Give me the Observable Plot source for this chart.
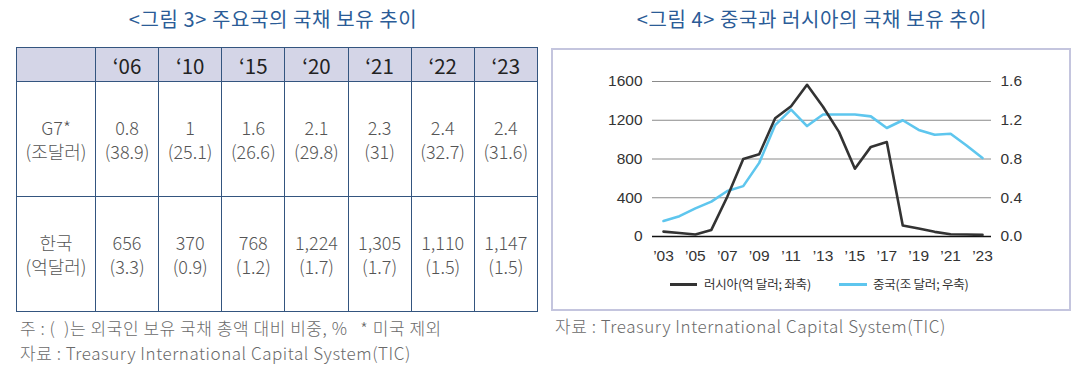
<!DOCTYPE html>
<html>
<head>
<meta charset="utf-8">
<script src="https://cdn.jsdelivr.net/npm/d3@7"></script>
<script src="https://cdn.jsdelivr.net/npm/@observablehq/plot@0.6"></script>
<style>
  html, body { margin: 0; padding: 0; background: #fff; }
  #page { position: relative; width: 1090px; height: 382px; overflow: hidden; font-family: "Noto Sans CJK KR", "Noto Sans", sans-serif; }
  .title { position: absolute; top: 5px; font-size: 20px; line-height: 28px; color: #2b5c97; text-align: center; white-space: nowrap; font-weight: 400; letter-spacing: 0.6px; }
  .note { position: absolute; font-size: 17px; line-height: 24px; color: #6a6a6a; white-space: pre; font-weight: 300; letter-spacing: 0.55px; }
  table.t { position: absolute; left: 16px; top: 47px; width: 521px; border-collapse: collapse; table-layout: fixed; }
  table.t td, table.t th { border: 1px solid #34557f; text-align: center; padding: 0; }
  table.t th { background: #d4d5e7; height: 33px; font-size: 20.5px; font-weight: 400; color: #222; }
  table.t td { height: 114px; font-size: 18px; line-height: 24px; color: #555; font-weight: 300; }
  #box { position: absolute; left: 551px; top: 48px; width: 516px; height: 259px; border: 2px solid #c4c5de; }
  #chart { position: absolute; left: 552px; top: 48px; }
  .leg { position: absolute; top: 275px; font-size: 12.5px; line-height: 18px; color: #333; white-space: nowrap; letter-spacing: -0.2px; }
  .sw { position: absolute; top: 283px; height: 3px; }
</style>
</head>
<body>
<div id="page">
  <div class="title" style="left:0; width:546px;">&lt;그림 3&gt; 주요국의 국채 보유 추이</div>
  <div class="title" style="left:546px; width:532px;">&lt;그림 4&gt; 중국과 러시아의 국채 보유 추이</div>
  <table class="t" id="tbl"></table>
  <div class="note" style="left:20px; top:316px;">주 : (  )는 외국인 보유 국채 총액 대비 비중, %   * 미국 제외</div>
  <div class="note" style="left:20px; top:341px;">자료 : Treasury International Capital System(TIC)</div>
  <div id="box"></div>
  <div id="chart"></div>
  <div class="sw" style="left:670px; width:27px; background:#333;"></div>
  <div class="leg" style="left:704px;">러시아(억 달러; 좌축)</div>
  <div class="sw" style="left:839px; width:28px; background:#5ec6ee;"></div>
  <div class="leg" style="left:873px;">중국(조 달러; 우축)</div>
  <div class="note" style="left:555px; top:314px;">자료 : Treasury International Capital System(TIC)</div>
</div>
<script>
// ---- Table data (figure 3) ----
const tableYears = ["‘06", "‘10", "‘15", "‘20", "‘21", "‘22", "‘23"];
const g7Holdings = [0.8, 1, 1.6, 2.1, 2.3, 2.4, 2.4];
const g7Share = [38.9, 25.1, 26.6, 29.8, 31, 32.7, 31.6];
const korHoldings = [656, 370, 768, 1224, 1305, 1110, 1147];
const korShare = [3.3, 0.9, 1.2, 1.7, 1.7, 1.5, 1.5];
const rowLabels = [["G7*", "(조달러)"], ["한국", "(억달러)"]];

// ---- Line chart data (figure 4) ----
const years = [2003, 2004, 2005, 2006, 2007, 2008, 2009, 2010, 2011, 2012, 2013, 2014, 2015, 2016, 2017, 2018, 2019, 2020, 2021, 2022, 2023];
const russia = [50, 36, 21, 68, 410, 800, 850, 1220, 1345, 1566, 1340, 1080, 700, 925, 975, 113, 82, 48, 24, 20, 17];
const china = [0.16, 0.21, 0.29, 0.36, 0.47, 0.52, 0.76, 1.15, 1.31, 1.14, 1.26, 1.26, 1.26, 1.24, 1.12, 1.20, 1.10, 1.05, 1.06, 0.94, 0.81];
const leftTicks = [0, 400, 800, 1200, 1600];
const rightTicks = [0, 0.4, 0.8, 1.2, 1.6];
const xTicks = [2003, 2005, 2007, 2009, 2011, 2013, 2015, 2017, 2019, 2021, 2023];

// build table
const tbl = document.getElementById("tbl");
const colgroup = document.createElement("colgroup");
colgroup.innerHTML = `<col style="width:79px">` + tableYears.map(() => `<col style="width:63.14px">`).join("");
tbl.appendChild(colgroup);
const head = document.createElement("tr");
head.innerHTML = `<th></th>` + tableYears.map(y => `<th>${y}</th>`).join("");
tbl.appendChild(head);
const fmtK = d3.format(",");
const rows = [
  g7Holdings.map((v, i) => [String(v), "(" + String(g7Share[i]) + ")"]),
  korHoldings.map((v, i) => [fmtK(v), "(" + korShare[i].toFixed(1) + ")"])
];
rows.forEach((r, ri) => {
  const tr = document.createElement("tr");
  tr.innerHTML = `<td>${rowLabels[ri][0]}<br>${rowLabels[ri][1]}</td>` + r.map(c => `<td>${c[0]}<br>${c[1]}</td>`).join("");
  tbl.appendChild(tr);
});

// build chart
const data = years.map((y, i) => ({year: y, russia: russia[i], china: china[i]}));
const chart = Plot.plot({
  width: 518,
  height: 230,
  marginLeft: 100,
  marginRight: 79,
  marginTop: 33,
  marginBottom: 42,
  style: {fontFamily: "'Liberation Sans', Arial, sans-serif", fontSize: "15.5px", color: "#333", background: "transparent", overflow: "visible"},
  x: {domain: [2003, 2023], insetLeft: 11, insetRight: 9},
  y: {domain: [0, 1600]},
  marks: [
    Plot.ruleY(leftTicks.slice(1), {stroke: "#8a8a8a", strokeWidth: 1}),
    Plot.ruleY([0], {stroke: "#111", strokeWidth: 1.6}),
    Plot.axisY(leftTicks, {anchor: "left", tickSize: 0, tickPadding: 10, label: null, fontSize: 15.5, tickFormat: d => String(d)}),
    Plot.axisY(rightTicks.map(v => v * 1000), {anchor: "right", tickSize: 0, tickPadding: 9, label: null, fontSize: 15.5, tickFormat: d => (d / 1000).toFixed(1)}),
    Plot.axisX(xTicks, {tickSize: 0, tickPadding: 13, label: null, fontSize: 15.5, tickFormat: d => "’" + String(d).slice(2)}),
    Plot.lineY(data, {x: "year", y: d => d.china * 1000, stroke: "#5ec6ee", strokeWidth: 2.6}),
    Plot.lineY(data, {x: "year", y: "russia", stroke: "#333", strokeWidth: 2.6})
  ]
});
document.getElementById("chart").appendChild(chart);
</script>
</body>
</html>
